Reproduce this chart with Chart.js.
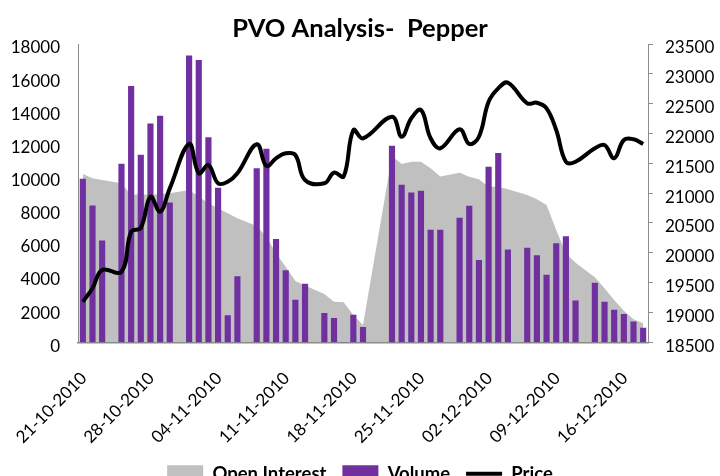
<!DOCTYPE html>
<html>
<head>
<meta charset="utf-8">
<script src="https://cdn.jsdelivr.net/npm/chart.js@4.4.1/dist/chart.umd.min.js"></script>
<style>
  html, body { margin: 0; padding: 0; background: #fff; overflow: hidden; }
  #c { display: block; }
</style>
</head>
<body>
<canvas id="c" width="720" height="493"></canvas>
<script>
// Calendar days on the date axis (21-10-2010 .. 18-12-2010)
const dates = [
  '21-10-2010','22-10-2010','23-10-2010','24-10-2010','25-10-2010','26-10-2010','27-10-2010',
  '28-10-2010','29-10-2010','30-10-2010','31-10-2010','01-11-2010','02-11-2010','03-11-2010',
  '04-11-2010','05-11-2010','06-11-2010','07-11-2010','08-11-2010','09-11-2010','10-11-2010',
  '11-11-2010','12-11-2010','13-11-2010','14-11-2010','15-11-2010','16-11-2010','17-11-2010',
  '18-11-2010','19-11-2010','20-11-2010','21-11-2010','22-11-2010','23-11-2010','24-11-2010',
  '25-11-2010','26-11-2010','27-11-2010','28-11-2010','29-11-2010','30-11-2010','01-12-2010',
  '02-12-2010','03-12-2010','04-12-2010','05-12-2010','06-12-2010','07-12-2010','08-12-2010',
  '09-12-2010','10-12-2010','11-12-2010','12-12-2010','13-12-2010','14-12-2010','15-12-2010',
  '16-12-2010','17-12-2010','18-12-2010'
];

// Weekly tick labels shown on the x axis
const tickLabels = ['21-10-2010','28-10-2010','04-11-2010','11-11-2010','18-11-2010',
                    '25-11-2010','02-12-2010','09-12-2010','16-12-2010'];

// Open interest (left axis); null = no data that day
const openInterest = [
  10160, 9900, 9790, null, 9590, 8890, 8950,
  8890, 8950, 8990, null, 9190, 8790, 8390,
  8090, 7780, 7480, null, 7020, 6370, 5370,
  4560, 3700, 3430, null, 2920, 2450, 2420,
  1650, 1040, null, null, 11240, 10760, 10900,
  10900, 10500, 10000, null, 10230, 9990, 9840,
  9390, 9390, 9230, null, 8890, 8630, 8290,
  6780, 5370, 4800, null, 3920, 3260, 2550,
  1910, 1390, 1150
];

// Volume (left axis)
const volume = [
  9850, 8230, 6120, null, 10750, 15450, 11300,
  13190, 13650, 8420, null, 17290, 17020, 12360,
  9300, 1610, 3970, null, 10490, 11660, 6220,
  4330, 2550, 3520, null, 1750, 1450, 0,
  1650, 900, null, null, 11840, 9480, 9020,
  9120, 6770, 6770, null, 7490, 8220, 4950,
  10570, 11400, 5580, null, 5680, 5240, 4050,
  5960, 6380, 2500, null, 3580, 2420, 1950,
  1690, 1230, 860
];

// Price (right axis)
const price = [
  19180, 19405, 19712, null, 19683, 20350, 20420,
  20940, 20689, 21080, null, 21824, 21333, 21472,
  21165, 21192, 21333, null, 21819, 21455, 21584,
  21668, 21640, 21221, null, 21165, 21343, 21280,
  22058, 21919, null, null, 22282, 21946, 22255,
  22394, 21920, 21752, null, 22070, 21824, 21946,
  22533, 22757, 22851, null, 22506, 22516, 22422,
  22058, 21527, 21527, null, 21752, 21807, 21584,
  21891, 21903, 21824
];

const FONT = 'Lato';
const axisGrey = '#8c8c8c';
const plain = (v) => String(v);

const chart = new Chart(document.getElementById('c'), {
  type: 'bar',
  data: {
    labels: dates,
    datasets: [
      { type: 'line', label: 'Open Interest', data: openInterest, yAxisID: 'y',
        backgroundColor: '#C0C0C0', borderColor: '#C0C0C0', borderWidth: 0, pointRadius: 0,
        fill: 'origin', spanGaps: true, tension: 0, order: 3 },
      { type: 'bar', label: 'Volume', data: volume, yAxisID: 'y',
        backgroundColor: '#7030A0', borderWidth: 0, barThickness: 5.5, order: 2 },
      { type: 'line', label: 'Price', data: price, yAxisID: 'y1',
        borderColor: '#000000', backgroundColor: '#000000', borderWidth: 4, pointRadius: 0,
        fill: false, spanGaps: true, tension: 0.4, order: 1 }
    ]
  },
  options: {
    responsive: false,
    animation: false,
    devicePixelRatio: 1,
    layout: { padding: 0 },
    plugins: {
      tooltip: { enabled: false },
      title: {
        display: true,
        text: 'PVO Analysis-  Pepper',
        color: '#000',
        font: { family: FONT, size: 25.5, weight: 'bold', lineHeight: 1.2 },
        padding: { top: 13, bottom: 0.4 }
      },
      legend: {
        display: true,
        position: 'bottom',
        labels: {
          color: '#000',
          font: { family: FONT, size: 18.5, weight: 'bold' },
          usePointStyle: true,
          pointStyleWidth: 36,
          boxHeight: 17,
          padding: 16,
          sort: (a, b) => a.datasetIndex - b.datasetIndex,
          generateLabels: (ch) => {
            const items = Chart.defaults.plugins.legend.labels.generateLabels(ch);
            items.forEach(it => {
              if (it.datasetIndex === 0) {
                it.pointStyle = 'rect'; it.fillStyle = '#C0C0C0'; it.strokeStyle = '#C0C0C0'; it.lineWidth = 0;
              } else if (it.datasetIndex === 1) {
                it.pointStyle = 'rect'; it.fillStyle = '#7030A0'; it.strokeStyle = '#7030A0'; it.lineWidth = 0;
              } else {
                it.pointStyle = 'line'; it.strokeStyle = '#000'; it.fillStyle = '#000'; it.lineWidth = 4;
              }
            });
            return items;
          }
        }
      }
    },
    scales: {
      x: {
        type: 'category',
        offset: true,
        grid: { display: false, drawTicks: false },
        border: { display: true, color: axisGrey, width: 1.5 },
        ticks: {
          autoSkip: false, minRotation: 45, maxRotation: 45,
          padding: 26, labelOffset: 1,
          color: '#000',
          font: { family: FONT, size: 17 },
          callback: function (value) {
            const lab = this.getLabelForValue(value);
            return tickLabels.includes(lab) ? lab : '';
          }
        },
        afterFit: (s) => { s.height = 106.2; s.paddingLeft = 0; s.paddingRight = 0; }
      },
      y: {
        position: 'left', min: 0, max: 18000,
        grid: { display: false, drawTicks: false },
        border: { display: true, color: axisGrey, width: 1 },
        ticks: { stepSize: 2000, padding: 18, labelOffset: 4, color: '#000',
                 font: { family: FONT, size: 17 }, callback: plain },
        afterFit: (s) => { s.width = 78; }
      },
      y1: {
        position: 'right', min: 18500, max: 23500,
        grid: { display: true, drawOnChartArea: false, drawTicks: true, tickLength: 5, color: axisGrey },
        border: { display: true, color: axisGrey, width: 1 },
        ticks: { stepSize: 500, padding: 12, labelOffset: 4, color: '#000',
                 font: { family: FONT, size: 17 }, callback: plain },
        afterFit: (s) => { s.width = 72; }
      }
    }
  }
});
</script>
</body>
</html>
